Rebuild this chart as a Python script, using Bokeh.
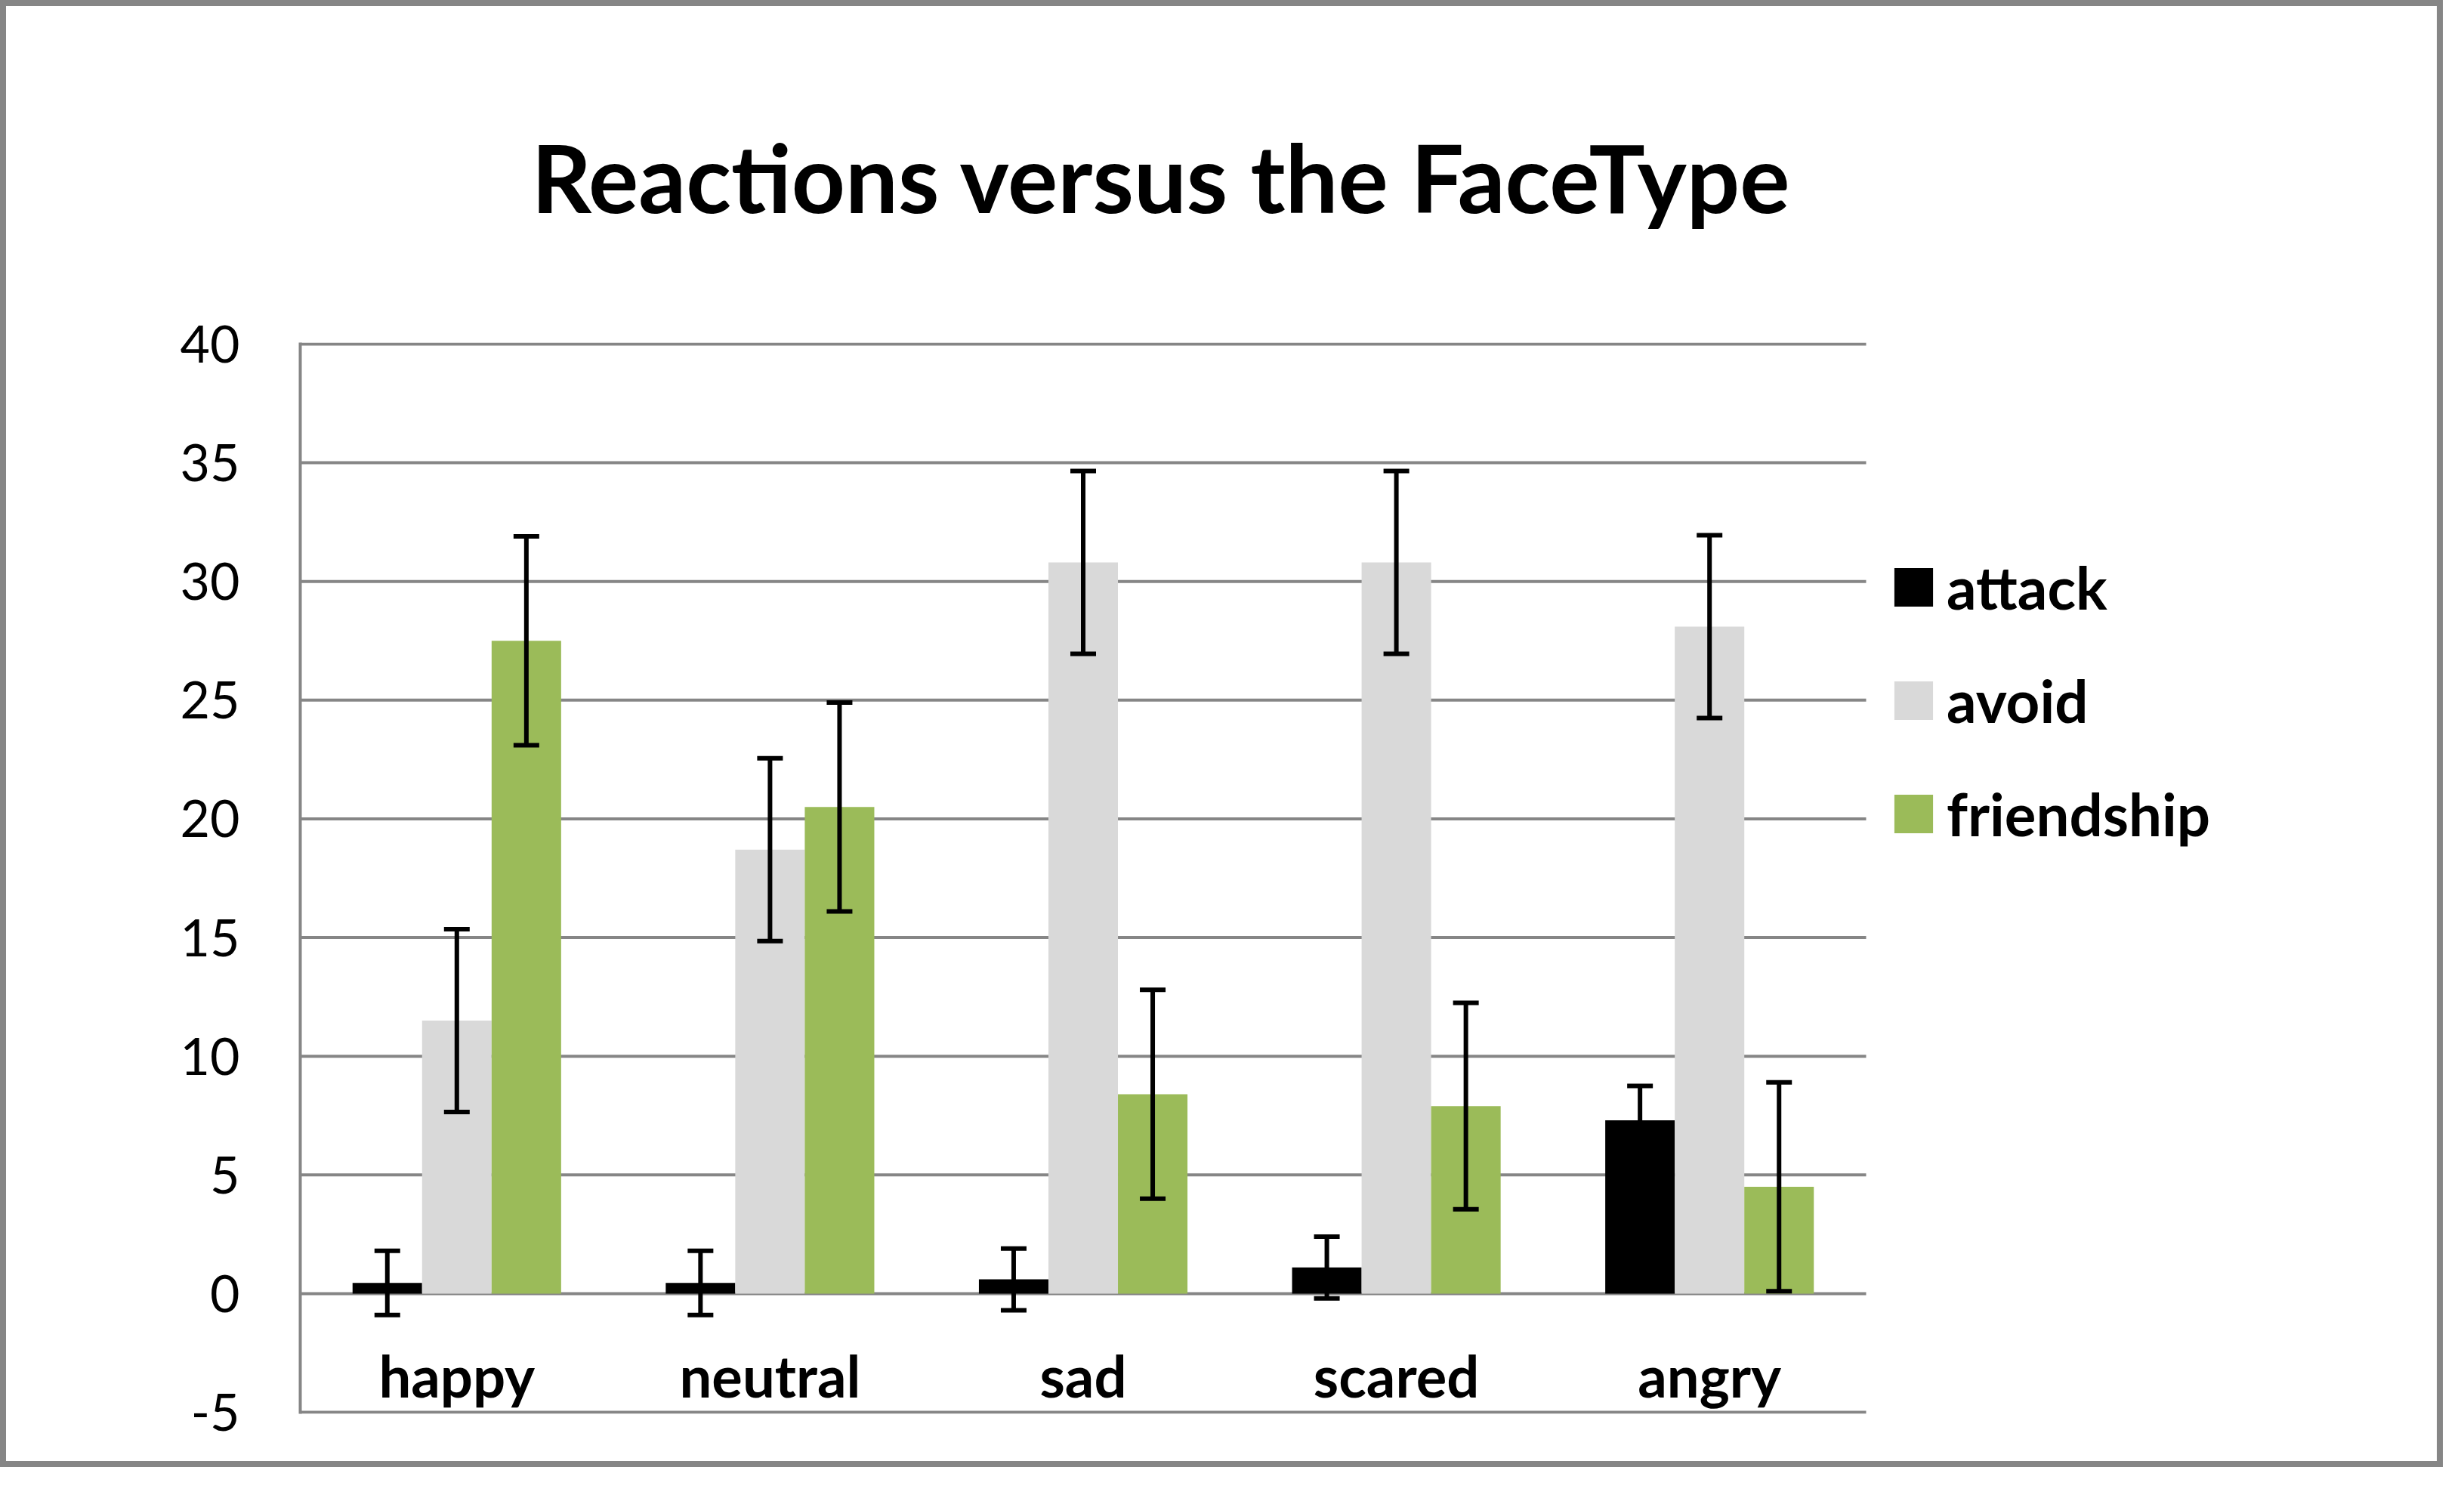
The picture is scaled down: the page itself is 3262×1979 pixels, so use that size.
import numpy as np
from bokeh.plotting import figure
from bokeh.models import (ColumnDataSource, Range1d, FixedTicker, Whisker, TeeHead,
                          Legend, LegendItem)
from bokeh.core.properties import value
from bokeh.embed import file_html
from bokeh.resources import INLINE

# ---- data ----
categories = ["happy", "neutral", "sad", "scared", "angry"]
series = ["attack", "avoid", "friendship"]
attack = [0.45, 0.45, 0.6, 1.1, 7.3]
attack_err = [1.35, 1.35, 1.3, 1.3, 1.45]
avoid = [11.5, 18.7, 30.8, 30.8, 28.1]
avoid_err = [3.85, 3.85, 3.85, 3.85, 3.85]
friendship = [27.5, 20.5, 8.4, 7.9, 4.5]
friendship_err = [4.4, 4.4, 4.4, 4.35, 4.4]
y_ticks = [-5, 0, 5, 10, 15, 20, 25, 30, 35, 40]
y_tick_labels = ["-5", "0", "5", "10", "15", "20", "25", "30", "35", "40"]
title_text = "Reactions versus the FaceType"

colors = {"attack": "#000000", "avoid": "#D9D9D9", "friendship": "#9BBB59"}
values = {"attack": attack, "avoid": avoid, "friendship": friendship}
errors = {"attack": attack_err, "avoid": avoid_err, "friendship": friendship_err}
GRAY = "#868686"

# ---- layout (canvas px) ----
BORDER = 8
W, H = 3218, 1926
Wc, Hc = W + 2 * BORDER, H + 2 * BORDER    # effective canvas size
PL, PR, PT, PB = 389, 2462, 447, 1861      # plot area (x -0.5..4.5, y -5..40)
FR = Wc - 30                                # frame extends right to hold legend
ypad = 2.0 * 45.0 / (PB - PT)              # 2px of headroom for edge gridlines
y0, y1 = y_ticks[0] - ypad, y_ticks[-1] + ypad
x0 = -0.5
x1 = x0 + len(categories) * (FR - PL) / (PR - PL)
FT = PT - 2
FB = PB + 2

p = figure(width=W, height=H, output_backend="svg", toolbar_location=None,
           x_range=Range1d(x0, x1), y_range=Range1d(y0, y1),
           min_border_left=PL, min_border_right=Wc - FR, min_border_top=FT,
           min_border_bottom=Hc - FB, title=title_text)
p.background_fill_color = "white"
p.border_fill_color = None
p.outline_line_color = None
p.styles = {"border": f"{BORDER}px solid " + GRAY, "box-sizing": "content-box"}

p.title.text_font = "Lato"
p.title.text_font_style = "bold"
p.title.text_font_size = "124px"
p.title.align = "left"
p.title.offset = 306
p.title.standoff = 292
p.title.text_color = "black"

p.xaxis.visible = False
p.xgrid.visible = False
p.ygrid.visible = False
p.yaxis.ticker = FixedTicker(ticks=y_ticks)
p.yaxis.major_label_overrides = {t: l for t, l in zip(y_ticks, y_tick_labels)}
p.yaxis.major_tick_out = 0
p.yaxis.major_tick_in = 0
p.yaxis.minor_tick_out = 0
p.yaxis.minor_tick_in = 0
p.yaxis.axis_line_color = GRAY
p.yaxis.axis_line_width = 4
p.yaxis.major_label_standoff = 80
p.yaxis.major_label_text_font = "Lato"
p.yaxis.major_label_text_font_size = "68px"
p.yaxis.major_label_text_color = "black"

# horizontal gridlines spanning only the category area
n = len(categories)
p.segment(x0=[-0.5] * len(y_ticks), x1=[n - 0.5] * len(y_ticks), y0=y_ticks, y1=y_ticks,
          line_color=GRAY, line_width=4)

bar_w = 0.222
offsets = {"attack": -bar_w, "avoid": 0.0, "friendship": bar_w}
xs = np.arange(n)
renderers = {}
for s in series:
    v = np.array(values[s])
    src = ColumnDataSource(dict(x=xs + offsets[s], top=v))
    r = p.vbar(x="x", top="top", bottom=0, width=bar_w, source=src,
               fill_color=colors[s], line_color=None)
    renderers[s] = r
for s in series:
    v = np.array(values[s])
    e = np.array(errors[s])
    src = ColumnDataSource(dict(x=xs + offsets[s], upper=v + e, lower=v - e))
    wk = Whisker(base="x", upper="upper", lower="lower", source=src, dimension="height",
                 line_color="black", line_width=6, level="overlay",
                 upper_head=TeeHead(size=34, line_color="black", line_width=6),
                 lower_head=TeeHead(size=34, line_color="black", line_width=6))
    p.add_layout(wk)

lab_src = ColumnDataSource(dict(x=xs, y=[-3.45] * n, t=categories))
p.text(x="x", y="y", text="t", source=lab_src, text_font=value("Lato"),
       text_font_style="bold", text_font_size="76px", text_align="center",
       text_baseline="middle", text_color="black")

legend = Legend(items=[LegendItem(label=s, renderers=[renderers[s]]) for s in series],
                location=(2104, 747), glyph_width=64, glyph_height=64,
                label_text_font="Lato", label_text_font_style="bold",
                label_text_font_size="78px", label_text_color="black",
                label_standoff=12, spacing=56,
                padding=0, margin=0, border_line_color=None, background_fill_alpha=0)
p.add_layout(legend)

open("out.html", "w").write(file_html(p, INLINE))
